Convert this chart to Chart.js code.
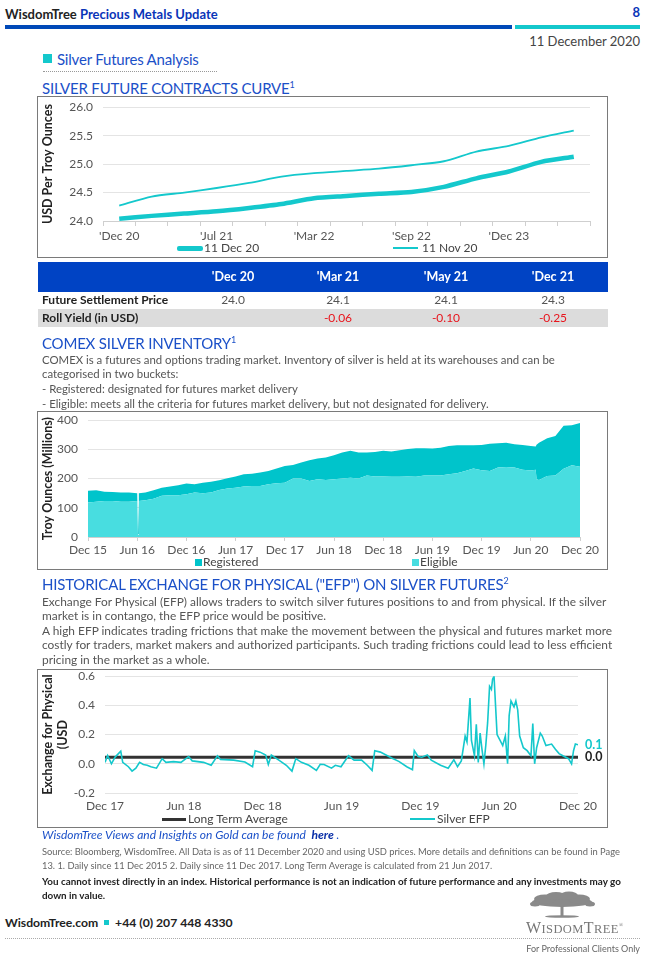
<!DOCTYPE html>
<html><head><meta charset="utf-8">
<script src="https://cdn.jsdelivr.net/npm/chart.js@4.4.0/dist/chart.umd.min.js"></script>
<style>
body{margin:0;width:650px;height:955px;position:relative;background:#fff;font-family:Lato,'Noto Sans',sans-serif;overflow:hidden;color:#333}
.a{position:absolute;white-space:nowrap}
.title{font-size:15px;color:#1b50c8;line-height:18px;letter-spacing:-0.2px}
.title sup{font-size:9px;vertical-align:6px;line-height:0}
.para{color:#555;line-height:14.7px}
.box{position:absolute;border:1.5px solid #7a7a7a;box-sizing:border-box}
.cw{position:absolute}
.leg{position:absolute;font-size:12px;color:#444;line-height:14px;white-space:nowrap}
.th{position:absolute;color:#fff;font-weight:bold;font-size:12.5px;line-height:16px;transform:translateX(-50%)}
.td{position:absolute;font-size:12px;line-height:16px;transform:translateX(-50%)}
</style></head>
<body>
<!-- header -->
<div class="a" style="left:5px;top:5px;font-size:13px;font-weight:bold;line-height:18px;color:#222">WisdomTree <span style="color:#0a35b8">Precious Metals Update</span></div>
<div class="a" style="right:10px;top:3px;font-size:13px;font-weight:bold;line-height:18px;color:#0a35b8">8</div>
<div class="a" style="left:5px;top:25px;width:507px;height:4px;background:#0049b8"></div>
<div class="a" style="left:515px;top:25px;width:125px;height:4px;background:#14c8cc"></div>
<div class="a" style="right:10px;top:32px;font-size:13px;line-height:18px;color:#444">11 December 2020</div>
<div class="a" style="left:43px;top:54px;width:9px;height:9px;background:#14c8cc"></div>
<div class="a title" style="left:57px;top:50px">Silver Futures Analysis</div>
<div class="a" style="left:43px;top:71px;width:174px;border-top:1px dotted #999"></div>

<!-- section 1 -->
<div class="a title" style="left:42px;top:79px">SILVER FUTURE CONTRACTS CURVE<sup>1</sup></div>
<div class="box" style="left:37px;top:96px;width:571px;height:162px"></div>
<div class="cw" style="left:38px;top:90px;width:569px;height:155px"><canvas id="c1"></canvas></div>
<div class="a" style="left:177px;top:245.5px;width:26px;height:5px;background:#14c8cc;border-radius:2px"></div>
<div class="leg" style="left:204px;top:241px">11 Dec 20</div>
<div class="a" style="left:393px;top:247px;width:25px;height:2px;background:#14c8cc"></div>
<div class="leg" style="left:422px;top:241px">11 Nov 20</div>

<!-- table -->
<div class="a" style="left:38px;top:262px;width:570px;height:30px;background:#0043c4"></div>
<div class="a" style="left:38px;top:309px;width:570px;height:18px;background:#dcdcdc"></div>
<div id="tbl"></div>
<div class="a" style="left:42px;top:292px;font-size:12px;font-weight:bold;line-height:16px;color:#222">Future Settlement Price</div>
<div class="a" style="left:42px;top:310px;font-size:12px;font-weight:bold;line-height:16px;color:#222">Roll Yield (in USD)</div>

<!-- section 2 -->
<div class="a title" style="left:42px;top:334px">COMEX SILVER INVENTORY<sup>1</sup></div>
<div class="a para" style="left:42px;top:352.5px;font-size:11.4px">COMEX is a futures and options trading market. Inventory of silver is held at its warehouses and can be<br>categorised in two buckets:<br>- Registered: designated for futures market delivery<br>- Eligible: meets all the criteria for futures market delivery, but not designated for delivery.</div>
<div class="box" style="left:37px;top:411px;width:571px;height:159px"></div>
<div class="cw" style="left:38px;top:403px;width:569px;height:152px"><canvas id="c2"></canvas></div>
<div class="a" style="left:195px;top:558.5px;width:7px;height:7px;background:#00c4cb"></div>
<div class="leg" style="left:203px;top:555px">Registered</div>
<div class="a" style="left:412px;top:558.5px;width:7px;height:7px;background:#48dde0"></div>
<div class="leg" style="left:420px;top:555px">Eligible</div>

<!-- section 3 -->
<div class="a title" style="left:42px;top:575px">HISTORICAL EXCHANGE FOR PHYSICAL ("EFP") ON SILVER FUTURES<sup>2</sup></div>
<div class="a para" style="left:42px;top:594.5px;line-height:14.5px;font-size:11.9px">Exchange For Physical (EFP) allows traders to switch silver futures positions to and from physical. If the silver<br>market is in contango, the EFP price would be positive.<br>A high EFP indicates trading frictions that make the movement between the physical and futures market more<br>costly for traders, market makers and authorized participants. Such trading frictions could lead to less efficient<br>pricing in the market as a whole.</div>
<div class="box" style="left:37px;top:669px;width:571px;height:159px"></div>
<div class="cw" style="left:38px;top:659px;width:569px;height:155px"><canvas id="c3"></canvas></div>
<div class="a" style="left:162px;top:817.5px;width:24px;height:3.5px;background:#333"></div>
<div class="leg" style="left:188px;top:812px">Long Term Average</div>
<div class="a" style="left:410px;top:818px;width:25px;height:2px;background:#14c8cc"></div>
<div class="leg" style="left:437px;top:812px">Silver EFP</div>

<!-- footer -->
<div class="a" style="left:42px;top:827px;font-size:12px;line-height:16px;font-style:italic;color:#1b50c8">WisdomTree Views and Insights on Gold can be found&nbsp; <b style="color:#0a2fa8">here</b> .</div>
<div class="a" style="left:42px;top:845px;font-size:9.35px;line-height:14px;color:#666">Source: Bloomberg, WisdomTree. All Data is as of 11 December 2020 and using USD prices. More details and definitions can be found in Page<br>13. 1. Daily since 11 Dec 2015 2. Daily since 11 Dec 2017. Long Term Average is calculated from 21 Jun 2017.</div>
<div class="a" style="left:42px;top:874px;font-size:9.9px;line-height:14px;color:#222;font-weight:bold">You cannot invest directly in an index. Historical performance is not an indication of future performance and any investments may go<br>down in value.</div>
<div class="a" style="left:5px;top:914px;font-size:12.2px;line-height:18px;font-weight:bold;color:#222">WisdomTree.com <span style="display:inline-block;width:5px;height:5px;background:#14c8cc;vertical-align:2px;margin:0 3px"></span> +44 (0) 207 448 4330</div>
<svg class="a" style="left:525px;top:891px" width="115" height="30" viewBox="0 0 115 30">
  <g fill="#8a8a8a">
    <ellipse cx="37" cy="11" rx="30" ry="5"/>
    <ellipse cx="20" cy="8" rx="11" ry="4.5"/>
    <ellipse cx="54" cy="8" rx="11" ry="4.5"/>
    <ellipse cx="31" cy="5" rx="10" ry="4"/>
    <ellipse cx="44" cy="4.5" rx="9" ry="4"/>
    <ellipse cx="10" cy="13" rx="5" ry="2.5"/>
    <ellipse cx="65" cy="13" rx="5" ry="2.5"/>
    <rect x="35.5" y="13" width="3" height="12"/>
    <ellipse cx="37" cy="25.5" rx="17" ry="1.3"/>
  </g>
</svg>
<div class="a" style="left:526px;top:917px;font-family:'Liberation Serif','DejaVu Serif',serif;font-size:16px;line-height:17px;color:#777;letter-spacing:0.4px">W<span style="font-size:12.5px">ISDOM</span>T<span style="font-size:12.5px">REE</span><sup style="font-size:6px">®</sup></div>
<div class="a" style="left:5px;top:938px;width:635px;border-top:1px dotted #aaa"></div>
<div class="a" style="right:10px;top:942px;font-size:9px;line-height:14px;color:#666">For Professional Clients Only</div>

<script>
// ---------- DATA ----------
const contractLabels = ["'Dec 20","'Mar 21","'May 21","'Jul 21","'Sep 21","'Dec 21","'Mar 22","'May 22","'Jul 22","'Sep 22","'Dec 22","'Jul 23","'Dec 23","'Jul 24","'Dec 24"];
const curveDec11 = [24.04,24.09,24.13,24.17,24.23,24.30,24.40,24.44,24.48,24.51,24.60,24.75,24.87,25.04,25.13];
const curveNov11 = [24.27,24.43,24.50,24.58,24.67,24.78,24.84,24.88,24.92,24.98,25.05,25.22,25.32,25.47,25.59];

const tableHeaders = ["'Dec 20","'Mar 21","'May 21","'Dec 21"];
const settlementPrices = ["24.0","24.1","24.1","24.3"];
const rollYields = ["","-0.06","-0.10","-0.25"];

const invTickLabels = ['Dec 15','Jun 16','Dec 16','Jun 17','Dec 17','Jun 18','Dec 18','Jun 19','Dec 19','Jun 20','Dec 20'];
const invMonths = [0,1,2,3,4,5,6,6.1,6.2,7,8,9,10,11,12,13,14,15,16,17,18,19,20,21,22,23,24,25,26,27,28,29,30,31,32,33,34,35,36,37,38,39,40,41,42,43,44,45,46,47,48,49,50,51,52,53,54,54.6,54.7,55,56,57,58,59,60];
const eligible   = [118,121,123,123,121,121,123,8,123,126,131,141,143,143,146,152,150,152,161,166,169,173,175,175,181,184,186,200,200,192,198,195,198,200,203,200,211,207,207,206,206,207,206,211,211,211,215,218,226,235,229,226,238,240,238,230,228,230,198,195,209,211,234,246,241];
const registered = [40,39,32,31,31,31,27,2,27,26,29,28,30,34,37,29,36,37,33,35,38,42,42,46,45,51,57,47,55,71,71,77,82,89,92,89,78,84,88,87,91,94,98,93,92,95,97,96,88,79,86,93,83,83,80,85,84,80,118,128,129,135,147,137,149];

const efpTickLabels = ['Dec 17','Jun 18','Dec 18','Jun 19','Dec 19','Jun 20','Dec 20'];
const efpMonths = [0,0.2,0.49,0.77,1.2,1.35,1.78,2.06,2.35,2.63,2.92,3.21,3.49,3.92,4.35,4.64,5.21,5.78,6.36,6.64,7.5,8.08,8.56,8.79,9.79,10.65,11.23,11.43,11.8,12.23,12.43,12.66,13.23,13.8,14.23,14.52,14.95,15.52,16.09,16.38,16.67,17.24,17.53,17.96,18.53,18.96,19.53,19.96,20.33,20.53,20.96,21.82,22.39,22.97,23.4,23.54,23.83,24.11,24.54,24.83,25.54,26.12,26.55,26.83,27.12,27.41,27.55,27.78,27.89,28.12,28.26,28.41,28.55,28.69,28.84,28.98,29.12,29.27,29.41,29.5,29.61,29.73,29.84,30.07,30.27,30.47,30.64,30.76,30.9,31.13,31.27,31.41,31.56,31.84,32.13,32.42,32.56,32.7,32.85,33.13,33.28,33.56,33.99,34.28,34.56,34.85,35.28,35.51,35.66,35.8,36];
const efpValues = [0.01,0.057,0,0.046,0.086,0.01,-0.02,-0.05,-0.03,0.01,-0.005,-0.01,-0.02,-0.03,0.035,0.01,0.015,0.01,0.05,0.02,0.01,-0.01,0.055,0.03,0.025,0.012,-0.02,0.09,0.08,0.06,-0.005,0.06,0.025,-0.01,-0.05,0.035,0.01,-0.01,-0.045,-0.003,-0.005,-0.03,-0.01,-0.02,0.055,0.025,0.025,-0.01,-0.045,0.09,0.08,0.04,0.015,-0.02,-0.04,0.09,0.05,0.045,0.06,0.025,-0.01,-0.03,0.028,-0.02,0.02,0.19,0.15,0.45,0.16,0.055,0.27,0.01,0.21,0.1,0,0.125,0.28,0.53,0.51,0.58,0.6,0.39,0.2,0.16,0.125,0.19,0,0.33,0.43,0.39,0.43,0.37,0.19,0.11,0.09,0.055,0.275,0,0.11,0.21,0.19,0.125,0.135,0.1,0.07,0.055,0.035,0,0.09,0.135,0.13];
const longTermAverage = 0.045;

// ---------- STYLE ----------
const TEAL = '#14c8cc', DARK = '#333333';
const REG_COL = '#00c4cb', ELIG_COL = '#48dde0';
const FONT = "Lato, 'Noto Sans', sans-serif";
const tickFont = {family: FONT, size: 12};
const TICK_COL = '#555';
const GRID_COL = '#e4e4e4';
const LABEL_HALF = 7; // Chart.js adds half a tick label above the plot

// table
(function(){
  const cx = [233,338,446,553];
  let h = '';
  tableHeaders.forEach((t,i)=>{ h += `<div class="th" style="left:${cx[i]}px;top:269px">${t}</div>`; });
  settlementPrices.forEach((t,i)=>{ h += `<div class="td" style="left:${cx[i]}px;top:292px;color:#555">${t}</div>`; });
  rollYields.forEach((t,i)=>{ h += `<div class="td" style="left:${cx[i]}px;top:310px;color:#e8141c">${t}</div>`; });
  document.getElementById('tbl').innerHTML = h;
})();

// geometry helper: canvas rect + desired plot rect (page coords)
function geom(c){
  return {
    padding: {left:0, top:Math.max(0, c.pt - c.top - LABEL_HALF), right:(c.left + c.w) - c.pr, bottom:0},
    yw: c.pl - c.left,
    xh: (c.top + c.h) - c.pb
  };
}
const g1 = geom({left:38, top:90, w:569, h:155, pl:103, pr:590, pt:105, pb:221});
const g2 = geom({left:38, top:403, w:569, h:152, pl:88, pr:580, pt:418, pb:537});
const g3 = geom({left:38, top:659, w:569, h:155, pl:105, pr:578, pt:674, pb:793});

const base = {responsive:true, maintainAspectRatio:false, animation:false,
  plugins:{legend:{display:false}, tooltip:{enabled:false}}};

function yTitle(text){ return {display:true, text, color:'#222', font:{family:FONT, size:12.5, weight:'bold'}, padding:{top:2,bottom:4}}; }

// ---------- CHART 1 ----------
new Chart(document.getElementById('c1'), {
  type:'line',
  data:{labels:contractLabels, datasets:[
    {label:'11 Dec 20', data:curveDec11, borderColor:TEAL, borderWidth:4.5, pointRadius:0, tension:0.25},
    {label:'11 Nov 20', data:curveNov11, borderColor:TEAL, borderWidth:1.8, pointRadius:0, tension:0.25}
  ]},
  options:{...base, layout:{padding:g1.padding},
    scales:{
      x:{offset:true, grid:{offset:true, drawOnChartArea:false, drawTicks:true, tickLength:5, color:'#cfcfcf'},
         border:{display:true, color:'#cfcfcf'},
         ticks:{autoSkip:false, maxRotation:0, color:TICK_COL, font:tickFont, padding:3,
                callback:(v,i)=> i%3===0 ? contractLabels[i] : ''},
         afterFit:s=>{s.height=g1.xh;}},
      y:{min:24, max:26, grid:{color:GRID_COL, drawTicks:false}, border:{display:false},
         ticks:{stepSize:0.5, color:TICK_COL, font:tickFont, padding:10, callback:v=>v.toFixed(1)},
         title:yTitle('USD Per Troy Ounces'),
         afterFit:s=>{s.width=g1.yw;}}
    }}
});

// ---------- CHART 2 ----------
new Chart(document.getElementById('c2'), {
  type:'line',
  data:{datasets:[
    {label:'Eligible', data:invMonths.map((m,i)=>({x:m,y:eligible[i]})), borderWidth:0, pointRadius:0, fill:'origin', backgroundColor:ELIG_COL, borderColor:ELIG_COL, stack:'s'},
    {label:'Registered', data:invMonths.map((m,i)=>({x:m,y:registered[i]})), borderWidth:0, pointRadius:0, fill:'-1', backgroundColor:REG_COL, borderColor:REG_COL, stack:'s'}
  ]},
  options:{...base, layout:{padding:g2.padding},
    scales:{
      x:{type:'linear', min:0, max:60, grid:{drawOnChartArea:false, tickLength:4, color:'#cfcfcf'},
         border:{display:true, color:'#cfcfcf'},
         ticks:{stepSize:6, autoSkip:false, maxRotation:0, color:TICK_COL, font:tickFont, padding:2,
                callback:v=> invTickLabels[v/6] ?? ''},
         afterFit:s=>{s.height=g2.xh;}},
      y:{stacked:true, min:0, max:400, grid:{color:GRID_COL, drawTicks:false}, border:{display:false},
         ticks:{stepSize:100, color:TICK_COL, font:tickFont, padding:10},
         title:yTitle('Troy Ounces (Millions)'),
         afterFit:s=>{s.width=g2.yw;}}
    }}
});

// ---------- CHART 3 ----------
const endLabels = {
  id:'endLabels',
  afterDatasetsDraw(chart){
    const ctx = chart.ctx;
    ctx.save();
    ctx.font = `bold 12.5px ${FONT}`;
    ctx.textAlign = 'left'; ctx.textBaseline = 'middle';
    chart.data.datasets.forEach((ds,i)=>{
      const meta = chart.getDatasetMeta(i);
      const pt = meta.data[meta.data.length-1];
      const v = ds.data[ds.data.length-1].y;
      ctx.fillStyle = ds.labelColor;
      ctx.fillText(v.toFixed(1), chart.chartArea.right + 7, pt.y);
    });
    ctx.restore();
  }
};
new Chart(document.getElementById('c3'), {
  type:'line',
  data:{datasets:[
    {label:'Long Term Average', data:[{x:0,y:longTermAverage},{x:36,y:longTermAverage}], borderColor:DARK, borderWidth:3, pointRadius:0, labelColor:'#222', order:2},
    {label:'Silver EFP', data:efpMonths.map((m,i)=>({x:m,y:efpValues[i]})), borderColor:TEAL, borderWidth:1.6, pointRadius:0, labelColor:TEAL, order:1}
  ]},
  options:{...base, layout:{padding:g3.padding},
    scales:{
      x:{type:'linear', min:0, max:36, grid:{display:true, drawOnChartArea:false, drawTicks:false}, border:{display:false},
         ticks:{stepSize:6, autoSkip:false, maxRotation:0, color:TICK_COL, font:tickFont, padding:6,
                callback:v=> efpTickLabels[v/6] ?? ''},
         afterFit:s=>{s.height=g3.xh;}},
      y:{min:-0.2, max:0.6, grid:{color:GRID_COL, drawTicks:false}, border:{display:false},
         ticks:{stepSize:0.2, color:TICK_COL, font:tickFont, padding:10, callback:v=>v.toFixed(1)},
         title:yTitle(['Exchange for Physical','(USD']),
         afterFit:s=>{s.width=g3.yw;}}
    }},
  plugins:[endLabels]
});
</script>
</body></html>
